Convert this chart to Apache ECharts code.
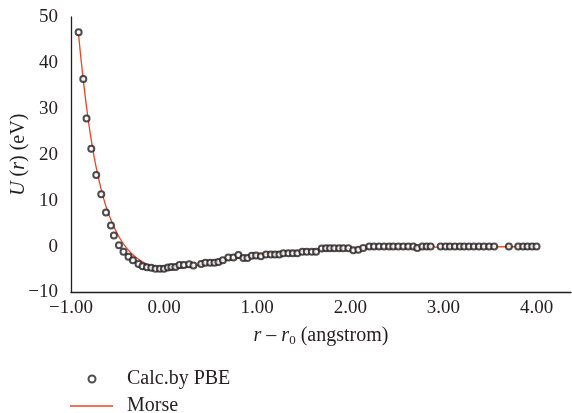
<!DOCTYPE html>
<html>
<head>
<meta charset="utf-8">
<script src="https://cdn.jsdelivr.net/npm/echarts@6/dist/echarts.min.js"></script>
<style>html,body{margin:0;padding:0;background:#fff;}#c{width:572px;height:413px;}</style>
</head>
<body>
<div id="c"></div>
<script>
// Calculated points (PBE)
const peX = [-0.918,-0.868,-0.833,-0.782,-0.729,-0.675,-0.624,-0.571,-0.539,-0.485,
  -0.436,-0.382,-0.335,-0.275,-0.232,-0.185,-0.138,-0.092,-0.045,-0.002,
  0.041,0.079,0.122,0.165,0.212,0.269,0.315,0.398,0.444,0.495,
  0.541,0.584,0.631,0.690,0.745,0.798,0.852,0.895,0.942,0.988,
  1.039,1.095,1.146,1.192,1.238,1.281,1.335,1.382,1.431,1.485,
  1.532,1.586,1.632,1.693,1.739,1.782,1.828,1.879,1.925,1.979,
  2.032,2.086,2.139,2.204,2.254,2.308,2.362,2.416,2.461,2.515,
  2.569,2.622,2.676,2.719,2.773,2.820,2.863,2.970,3.024,3.070,
  3.123,3.177,3.223,3.274,3.327,3.381,3.434,3.491,3.545,3.703,
  3.803,3.856,3.903,3.953,4.000];
const peY = [46.7,36.5,27.9,21.3,15.6,11.4,7.4,4.6,2.4,0.3,
  -1.1,-2.2,-3.0,-3.8,-4.3,-4.5,-4.6,-4.85,-4.85,-4.85,
  -4.55,-4.45,-4.45,-4.0,-4.0,-3.85,-4.1,-3.8,-3.5,-3.5,
  -3.5,-3.35,-3.0,-2.4,-2.4,-1.85,-2.5,-2.5,-2.0,-1.95,
  -2.1,-1.7,-1.7,-1.7,-1.7,-1.45,-1.45,-1.45,-1.45,-1.1,
  -1.1,-1.1,-1.1,-0.4,-0.35,-0.35,-0.35,-0.35,-0.35,-0.35,
  -0.8,-0.7,-0.3,0,0,0,0,0,0,0,
  0,0,0,-0.3,0,0,0,0,0,0,
  0,0,0,0,0,0,0,0,0,0,
  0,0,0,0,0];
// Morse fit curve
const morseX = [-0.92,-0.90,-0.88,-0.86,-0.84,-0.82,-0.80,-0.78,-0.76,-0.74,-0.72,-0.70,-0.68,-0.66,-0.64,-0.62,-0.60,-0.55,-0.50,-0.45,-0.40,-0.35,-0.30,-0.25,-0.20,-0.15,-0.10,-0.05,0.00,0.05,0.10,0.20,0.30,0.40,0.50,0.60,0.70,0.80,0.90,1.00,1.20,1.40,1.60,1.80,2.00,2.25,2.50,2.75,3.00,3.50,4.00];
const morseY = [46.5,42.3,38.5,34.9,31.5,28.4,25.5,22.9,20.5,18.3,16.3,14.5,12.8,11.2,9.8,8.5,7.3,4.8,2.7,1.0,-0.4,-1.5,-2.4,-3.1,-3.7,-4.2,-4.5,-4.75,-4.85,-4.87,-4.83,-4.62,-4.3,-3.95,-3.55,-3.15,-2.8,-2.45,-2.15,-1.85,-1.4,-1.05,-0.8,-0.6,-0.45,-0.32,-0.22,-0.15,-0.1,-0.05,-0.02];
const xTicks = [-1, 0, 1, 2, 3, 4];
const yTicks = [-10, 0, 10, 20, 30, 40, 50];
const seriesNames = ['Calc.by PBE', 'Morse'];

const FONT = 'Liberation Serif';
const INK = '#231f20';
const RED = '#ef4123';
const minus = s => String(s).replace('-', '\u2212');
const legendText = gap => ({
  fontFamily: FONT, fontSize: 20, color: INK, lineHeight: 20,
  rich: {t: {fontFamily: FONT, fontSize: 20, color: INK, lineHeight: 20, padding: [0, 0, 0, gap]}}
});

const chart = echarts.init(document.getElementById('c'), null, {renderer: 'canvas'});
chart.setOption({
  animation: false,
  backgroundColor: '#fff',
  grid: {left: 71, right: 1, top: 17, bottom: 120.5, containLabel: false, outerBoundsMode: 'none'},
  legend: [
    {
      left: 87.5, top: 369, padding: 0, itemWidth: 7, itemHeight: 7,
      formatter: '{t|{name}}', textStyle: legendText(26.5), data: [seriesNames[0]]
    },
    {
      left: 70, top: 396, padding: 0, itemWidth: 43, itemHeight: 1.4, icon: 'rect',
      formatter: '{t|{name}}', textStyle: legendText(9), data: [seriesNames[1]]
    }
  ],
  xAxis: {
    type: 'value', min: xTicks[0], max: 4.37, interval: 1,
    axisLine: {onZero: false, lineStyle: {color: INK, width: 1.3}},
    axisTick: {show: false}, splitLine: {show: false},
    axisLabel: {
      fontFamily: FONT, fontSize: 19, color: INK, margin: 6, showMaxLabel: false,
      formatter: v => xTicks.indexOf(v) >= 0 ? minus(v.toFixed(2)) : ''
    },
    name: '{i|r} \u2013 {i|r}{s|0} (angstrom)',
    nameLocation: 'middle', nameGap: 31, nameMoveOverlap: false,
    nameTextStyle: {
      fontFamily: FONT, fontSize: 20, color: INK, lineHeight: 24,
      rich: {
        i: {fontFamily: FONT, fontSize: 20, fontStyle: 'italic', color: INK, lineHeight: 24},
        s: {fontFamily: FONT, fontSize: 13, color: INK, verticalAlign: 'bottom', lineHeight: 13}
      }
    }
  },
  yAxis: {
    type: 'value', min: yTicks[0], max: yTicks[yTicks.length - 1], interval: 10,
    axisLine: {show: true, onZero: false, lineStyle: {color: INK, width: 1.3}},
    axisTick: {show: false}, splitLine: {show: false},
    axisLabel: {fontFamily: FONT, fontSize: 19, color: INK, margin: 13, formatter: v => minus(v)},
    name: '{i|U} ({i|r}) (eV)',
    nameLocation: 'middle', nameGap: 42, nameMoveOverlap: false,
    nameTextStyle: {
      fontFamily: FONT, fontSize: 20, color: INK,
      rich: {i: {fontFamily: FONT, fontSize: 20, fontStyle: 'italic', color: INK}}
    }
  },
  series: [
    {
      name: seriesNames[1], type: 'line', symbol: 'none', smooth: 0.3, z: 2,
      lineStyle: {color: RED, width: 1.3}, itemStyle: {color: RED},
      data: morseX.map((x, i) => [x, morseY[i]])
    },
    {
      name: seriesNames[0], type: 'scatter', symbol: 'emptyCircle', symbolSize: 6, z: 3,
      itemStyle: {color: INK, borderWidth: 1.4},
      data: peX.map((x, i) => [x, peY[i]])
    }
  ]
});
</script>
</body>
</html>
